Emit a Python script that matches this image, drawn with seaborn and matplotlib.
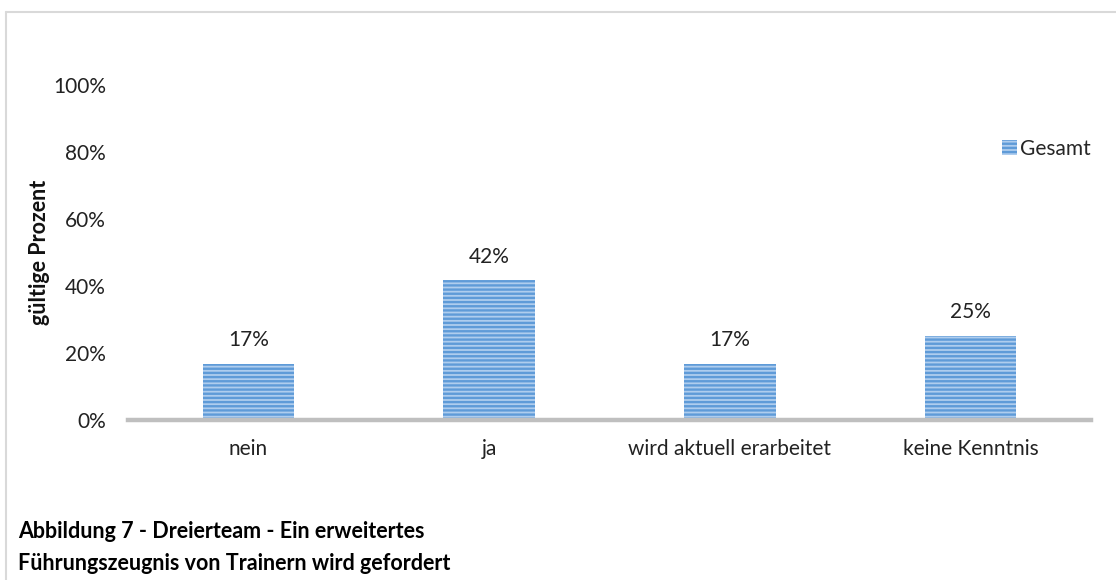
import matplotlib
matplotlib.use("Agg")
import matplotlib.pyplot as plt
from matplotlib.lines import Line2D
from matplotlib.ticker import PercentFormatter
import pandas as pd
import seaborn as sns

# data
categories = ["nein", "ja", "wird aktuell erarbeitet", "keine Kenntnis"]
values = [0.1667, 0.4167, 0.1667, 0.25]
series_name = "Gesamt"
y_ticks = [0, 0.2, 0.4, 0.6, 0.8, 1.0]
caption = ["Abbildung 7 - Dreierteam - Ein erweitertes",
           "Führungszeugnis von Trainern wird gefordert"]

df = pd.DataFrame({"Antwort": categories, "Anteil": values})

sns.set_style("white")
plt.rcParams["font.family"] = ["Lato", "DejaVu Sans"]
plt.rcParams["hatch.linewidth"] = 1.7

W, H = 1116, 580
fig = plt.figure(figsize=(W / 100, H / 100), dpi=100)
ax = fig.add_axes([128 / W, 160 / H, 963 / W, 335 / H])

sns.barplot(data=df, x="Antwort", y="Anteil", ax=ax, width=0.38,
            color="#AFCDEE", saturation=1, edgecolor="#5F9BD8",
            linewidth=0, hatch="----", label=series_name)

for c in ax.containers:
    ax.bar_label(c, labels=[f"{v * 100:.0f}%" for v in values],
                 padding=10, fontsize=15, color="#222222")

ax.set_xlim(-0.5, len(categories) - 0.5)
ax.set_ylim(0, 1.0)
ax.set_yticks(y_ticks)
ax.yaxis.set_major_formatter(PercentFormatter(1.0, decimals=0))
ax.tick_params(axis="both", length=0, labelsize=15, colors="#222222")
ax.tick_params(axis="x", pad=14)
ax.tick_params(axis="y", pad=16)

ax.set_xlabel("")
ax.set_ylabel("gültige Prozent", fontsize=15.5, fontweight="bold", color="#111111")
ax.yaxis.set_label_coords(-0.081, 0.5)

for s in ["top", "right", "left"]:
    ax.spines[s].set_visible(False)
ax.spines["bottom"].set_color("#BFBFBF")
ax.spines["bottom"].set_linewidth(3.2)

ax.legend(loc="center left", bbox_to_anchor=(1002 / W, 1 - 149 / H),
          bbox_transform=fig.transFigure, frameon=False, fontsize=15,
          handlelength=0.7, handleheight=0.7, handletextpad=0.15,
          borderpad=0, borderaxespad=0)

# light frame around the chart area
fig.add_artist(Line2D([6 / W, 6 / W], [0, 1 - 12 / H], color="#D9D9D9", lw=1.5))
fig.add_artist(Line2D([6 / W, 1], [1 - 12 / H, 1 - 12 / H], color="#D9D9D9", lw=1.5))

fig.text(18 / W, 1 - 531 / H, caption[0], fontsize=15.5, fontweight="bold",
         va="center", ha="left", color="#000000")
fig.text(18 / W, 1 - 563 / H, caption[1], fontsize=15.5, fontweight="bold",
         va="center", ha="left", color="#000000")

fig.savefig("out.png", dpi=100)
